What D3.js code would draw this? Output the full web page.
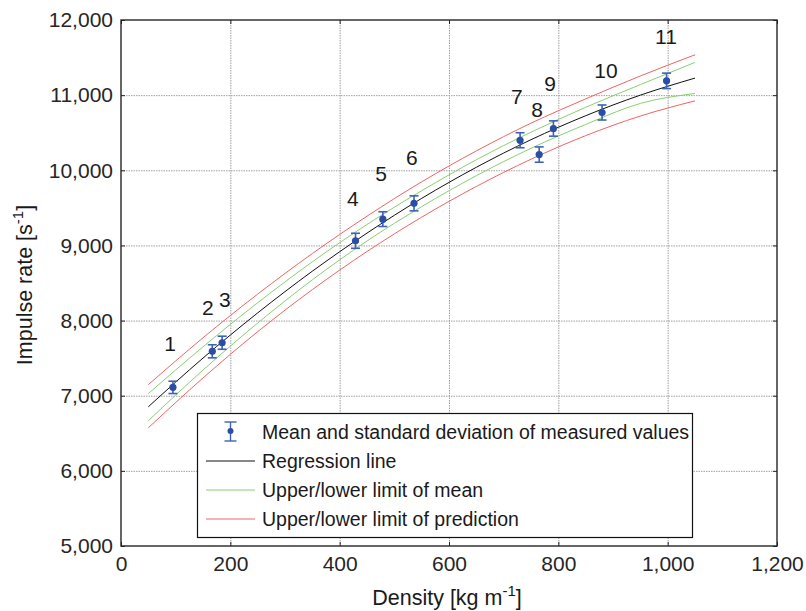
<!DOCTYPE html>
<html><head><meta charset="utf-8">
<script src="https://cdn.jsdelivr.net/npm/d3@7"></script>
<style>
html,body{margin:0;padding:0;background:#fff;}
svg{display:block;font-family:"Liberation Sans",Arial,Helvetica,sans-serif;}
</style></head>
<body>
<svg id="chart" width="806" height="611"></svg>
<script>
// ---- data ----
const density = [95, 167, 185, 429, 479, 536, 730, 765, 791, 880, 998];
const rate    = [7111, 7591, 7705, 9062, 9350, 9560, 10400, 10209, 10556, 10769, 11190];
const stdDev  = [82, 87, 87, 100, 98, 100, 100, 102, 102, 100, 103];
const pointLabels = ["1","2","3","4","5","6","7","8","9","10","11"];
const labelX = [90, 159, 190, 424, 476, 532, 724, 761, 785, 887, 997];
const labelY = [7693, 8173, 8280, 9627, 9960, 10173, 10987, 10813, 11160, 11333, 11787];

const curveX      = [50, 150, 250, 350, 450, 550, 650, 750, 850, 950, 1050];
const regression  = [6853, 7501, 8102, 8657, 9164, 9626, 10040, 10407, 10726, 11000, 11227];
const meanUpper   = [7028, 7651, 8237, 8782, 9279, 9728, 10140, 10507, 10838, 11140, 11436];
const meanLower   = [6667, 7341, 7967, 8542, 9059, 9516, 9928, 10292, 10610, 10890, 11022];
const predUpper   = [7147, 7771, 8352, 8892, 9389, 9846, 10258, 10627, 10950, 11255, 11537];
const predLower   = [6573, 7236, 7852, 8412, 8919, 9376, 9785, 10147, 10461, 10722, 10924];

const xTicks = [0, 200, 400, 600, 800, 1000, 1200];
const yTicks = [5000, 6000, 7000, 8000, 9000, 10000, 11000, 12000];
const legendLabels = ["Mean and standard deviation of measured values", "Regression line",
                      "Upper/lower limit of mean", "Upper/lower limit of prediction"];

// ---- drawing ----
const svg = d3.select("#chart");
const L = 121, R = 777, T = 20, B = 546;
const x = d3.scaleLinear().domain([0, 1200]).range([L, R]);
const y = d3.scaleLinear().domain([5000, 12000]).range([B, T]);
const fmt = d3.format(",");

const RED = "#f06464", GREEN = "#88d070", BLACK = "#111", DOT = "#2a4ea6", BAR = "#3d62b6";

// grid
const grid = svg.append("g").attr("stroke", "#a0a0a0").attr("stroke-width", 1).attr("stroke-dasharray", "1.5,1");
grid.selectAll("line.v").data(xTicks.slice(1, -1)).join("line")
  .attr("x1", d => x(d) + 0.5).attr("x2", d => x(d) + 0.5).attr("y1", T).attr("y2", B);
grid.selectAll("line.h").data(yTicks.slice(1, -1)).join("line")
  .attr("x1", L).attr("x2", R).attr("y1", d => y(d) + 0.5).attr("y2", d => y(d) + 0.5);

// curves
const line = d3.line().x((d, i) => x(curveX[i])).y(d => y(d)).curve(d3.curveMonotoneX);
const curves = [
  {v: predUpper, c: RED}, {v: predLower, c: RED},
  {v: meanUpper, c: GREEN}, {v: meanLower, c: GREEN},
  {v: regression, c: BLACK}
];
svg.append("g").selectAll("path").data(curves).join("path")
  .attr("d", d => line(d.v)).attr("fill", "none")
  .attr("stroke", d => d.c).attr("stroke-width", 1);

// error bars
const eb = svg.append("g").attr("stroke", BAR).attr("stroke-width", 1.6);
density.forEach((d, i) => {
  const cx = x(d), y1 = y(rate[i] + stdDev[i]), y2 = y(rate[i] - stdDev[i]);
  eb.append("line").attr("x1", cx).attr("x2", cx).attr("y1", y1).attr("y2", y2);
  eb.append("line").attr("x1", cx - 4.5).attr("x2", cx + 4.5).attr("y1", y1).attr("y2", y1);
  eb.append("line").attr("x1", cx - 4.5).attr("x2", cx + 4.5).attr("y1", y2).attr("y2", y2);
});
svg.append("g").selectAll("circle").data(density).join("circle")
  .attr("cx", d => x(d)).attr("cy", (d, i) => y(rate[i])).attr("r", 3.6).attr("fill", DOT);

// point labels
svg.append("g").selectAll("text").data(pointLabels).join("text")
  .attr("x", (d, i) => x(labelX[i])).attr("y", (d, i) => y(labelY[i]))
  .attr("text-anchor", "middle").attr("dominant-baseline", "central")
  .attr("font-size", 21).attr("fill", "#1a1a1a").text(d => d);

// axes
const axStyle = g => {
  g.select(".domain").remove();
  g.selectAll(".tick line").attr("stroke", "#262626").attr("stroke-width", 1);
  g.selectAll(".tick text").attr("fill", "#262626").attr("font-size", 21);
};
svg.append("g").attr("transform", `translate(0,${B})`)
  .call(d3.axisBottom(x).tickValues(xTicks).tickSize(-4).tickPadding(10).tickFormat(fmt)).call(axStyle);
svg.append("g").attr("transform", `translate(${L},0)`)
  .call(d3.axisLeft(y).tickValues(yTicks).tickSize(-4).tickPadding(8).tickFormat(fmt)).call(axStyle);
svg.append("g").attr("transform", `translate(0,${T})`)
  .call(d3.axisTop(x).tickValues(xTicks).tickSize(-4).tickFormat("")).call(axStyle);
svg.append("g").attr("transform", `translate(${R},0)`)
  .call(d3.axisRight(y).tickValues(yTicks).tickSize(-4).tickFormat("")).call(axStyle);

// legend
const lg = svg.append("g");
lg.append("rect").attr("x", 197.5).attr("y", 413.5).attr("width", 495).attr("height", 124)
  .attr("fill", "#fff").attr("stroke", "#111").attr("stroke-width", 1.2);
const rowY = [432, 461, 490, 519];
const lx1 = 206, lx2 = 255, lcx = (lx1 + lx2) / 2;
lg.append("line").attr("x1", lcx).attr("x2", lcx).attr("y1", 422).attr("y2", 441).attr("stroke", BAR).attr("stroke-width", 1.4);
lg.append("line").attr("x1", lcx - 6).attr("x2", lcx + 6).attr("y1", 422).attr("y2", 422).attr("stroke", BAR).attr("stroke-width", 1.4);
lg.append("line").attr("x1", lcx - 6).attr("x2", lcx + 6).attr("y1", 441).attr("y2", 441).attr("stroke", BAR).attr("stroke-width", 1.4);
lg.append("circle").attr("cx", lcx).attr("cy", 431).attr("r", 3).attr("fill", DOT);
[BLACK, GREEN, RED].forEach((c, i) => {
  lg.append("line").attr("x1", lx1).attr("x2", lx2).attr("y1", rowY[i + 1]).attr("y2", rowY[i + 1])
    .attr("stroke", c).attr("stroke-width", 1);
});
lg.selectAll("text").data(legendLabels).join("text")
  .attr("x", 262).attr("y", (d, i) => rowY[i]).attr("dominant-baseline", "central")
  .attr("font-size", 19.5).attr("fill", "#1a1a1a").text(d => d);

// frame
svg.append("rect").attr("x", L).attr("y", T).attr("width", R - L).attr("height", B - T)
  .attr("fill", "none").attr("stroke", "#262626").attr("stroke-width", 1.4);

// axis titles
const xt = svg.append("text").attr("x", (L + R) / 2 - 2).attr("y", 605).attr("text-anchor", "middle")
  .attr("font-size", 21.5).attr("fill", "#1a1a1a");
xt.append("tspan").text("Density [kg m");
xt.append("tspan").attr("font-size", 15).attr("dy", -9).text("-1");
xt.append("tspan").attr("dy", 9).text("]");

const yt = svg.append("text").attr("transform", `translate(32,${(T + B) / 2 + 2}) rotate(-90)`)
  .attr("text-anchor", "middle").attr("font-size", 21.5).attr("fill", "#1a1a1a");
yt.append("tspan").text("Impulse rate [s");
yt.append("tspan").attr("font-size", 15).attr("dy", -9).text("-1");
yt.append("tspan").attr("dy", 9).text("]");
</script>
</body></html>
